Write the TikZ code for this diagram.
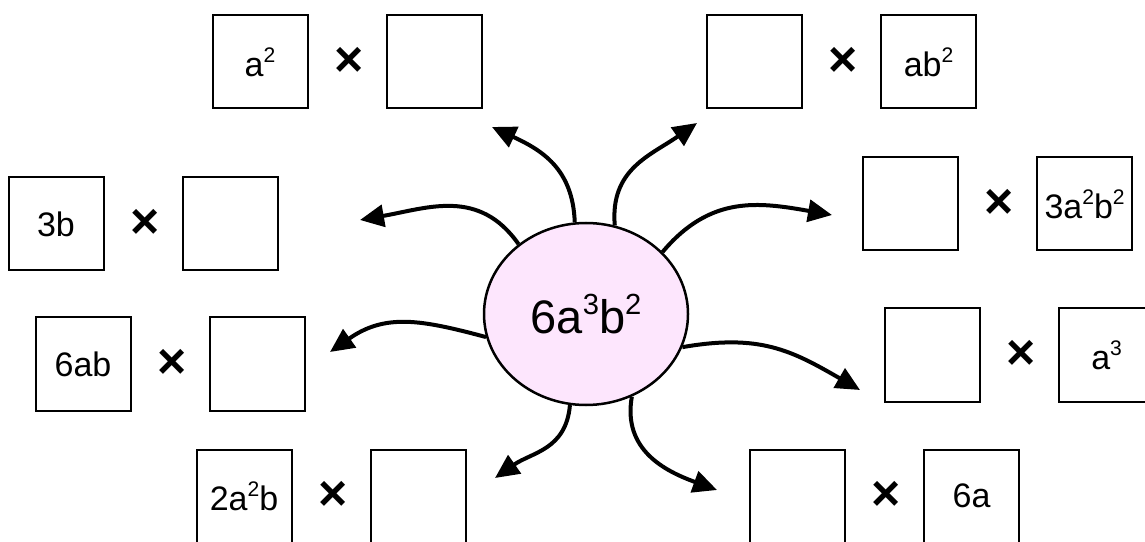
\documentclass[tikz,border=0pt]{standalone}
\usepackage{fontspec}
\setmainfont{Liberation Sans}
\usepackage{graphicx}
\usepackage{tikz}
\usetikzlibrary{positioning,arrows.meta,shapes.geometric}
\definecolor{mapink}{RGB}{0,0,0}
\definecolor{mappink}{RGB}{253,230,253}
\newcommand{\pwr}[1]{\raisebox{0.42em}{\scalebox{0.62}{#1}}}

\begin{document}
\begin{tikzpicture}[
      x=1pt, y=1pt,
      node distance=26pt,
      factor/.style={rectangle, draw=mapink, line width=2pt, minimum width=95pt, minimum height=93pt,
        inner sep=0pt, font=\fontsize{34}{40}\selectfont},
      timesign/.style={inner sep=0pt, font=\fontsize{50}{56}\selectfont\bfseries},
      core/.style={ellipse, draw=mapink, fill=mappink, line width=2.5pt, minimum width=204pt,
        minimum height=182pt, inner sep=0pt, font=\fontsize{47}{56}\selectfont},
      arrow/.style={-{Triangle[length=24pt,width=22pt]}, line width=4pt, color=mapink}
    ]
    \clip (0,0) rectangle (1145,541);

    \node[core] (monomial) at (586,227) {6a\pwr{3}b\pwr{2}};

    \node[factor] (asq) at (260,479) {a\pwr{2}};
    \node[timesign, right=of asq] (mulA) {×};
    \node[factor, right=22pt of mulA] (gapA) {};

    \node[factor] (gapB) at (754,479) {};
    \node[timesign, right=of gapB] (mulB) {×};
    \node[factor, right=22pt of mulB] (absq) {ab\pwr{2}};

    \node[factor] (threeb) at (56,317) {3b};
    \node[timesign, right=of threeb] (mulC) {×};
    \node[factor, right=22pt of mulC] (gapC) {};

    \node[factor] (gapD) at (910,337) {};
    \node[timesign, right=of gapD] (mulD) {×};
    \node[factor, right=22pt of mulD] (threeasqbsq) {3a\pwr{2}b\pwr{2}};

    \node[factor] (sixab) at (83,177) {6ab};
    \node[timesign, right=of sixab] (mulE) {×};
    \node[factor, right=22pt of mulE] (gapE) {};

    \node[factor] (gapF) at (932,186) {};
    \node[timesign, right=of gapF] (mulF) {×};
    \node[factor, right=22pt of mulF] (acube) {a\pwr{3}};

    \node[factor] (twoasqb) at (244,45) {2a\pwr{2}b};
    \node[timesign, right=of twoasqb] (mulG) {×};
    \node[factor, right=22pt of mulG] (gapG) {};

    \node[factor] (gapH) at (797,45) {};
    \node[timesign, right=of gapH] (mulH) {×};
    \node[factor, right=22pt of mulH] (sixa) {6a};

    \coordinate (tipA) at (492,414);
    \coordinate (tipB) at (697,418);
    \coordinate (tipC) at (360,321);
    \coordinate (tipD) at (832,326);
    \coordinate (tipE) at (330,189);
    \coordinate (tipF) at (860,151);
    \coordinate (tipG) at (495,63);
    \coordinate (tipH) at (717,51);

    \draw[arrow] (monomial.97) to[out=92, in=-25, looseness=1.1] (tipA);
    \draw[arrow] (monomial.72) to[out=95, in=-145, looseness=1.1] (tipB);
    \draw[arrow] (monomial.134) to[out=125, in=10, looseness=1.1] (tipC);
    \draw[arrow] (monomial.39) to[out=50, in=170, looseness=1.1] (tipD);
    \draw[arrow] (monomial.193) to[out=165, in=35, looseness=1.1] (tipE);
    \draw[arrow] (monomial.-19) to[out=10, in=150, looseness=1.1] (tipF);
    \draw[arrow] (monomial.260) to[out=-95, in=35, looseness=1.1] (tipG);
    \draw[arrow] (monomial.-61) to[out=-100, in=160, looseness=1.1] (tipH);
  \end{tikzpicture}
\end{document}
